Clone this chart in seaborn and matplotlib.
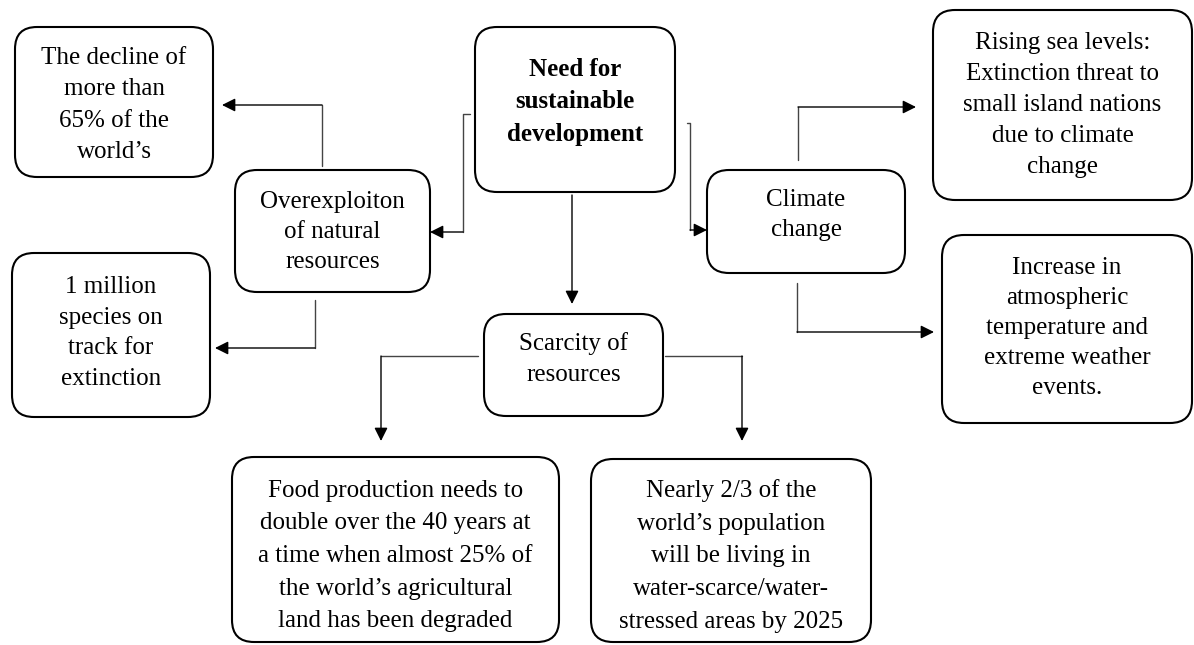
import matplotlib
matplotlib.use("Agg")
import matplotlib.pyplot as plt
from matplotlib.patches import FancyBboxPatch
import seaborn as sns

# box texts
node_ids = ["need", "decline", "over", "million", "climate",
            "rising", "increase", "scarcity", "food", "nearly"]
node_labels = [
    "Need for\nsustainable\ndevelopment",
    "The decline of\nmore than\n65% of the\nworld\u2019s",
    "Overexploiton\nof natural\nresources",
    "1 million\nspecies on\ntrack for\nextinction",
    "Climate\nchange",
    "Rising sea levels:\nExtinction threat to\nsmall island nations\ndue to climate\nchange",
    "Increase in\natmospheric\ntemperature and\nextreme weather\nevents.",
    "Scarcity of\nresources",
    "Food production needs to\ndouble over the 40 years at\na time when almost 25% of\nthe world\u2019s agricultural\nland has been degraded",
    "Nearly 2/3 of the\nworld\u2019s population\nwill be living in\nwater-scarce/water-\nstressed areas by 2025",
]
bold_nodes = ["need"]

# links between boxes (from, to)
edges = [("need", "over"), ("need", "climate"), ("need", "scarcity"),
         ("over", "decline"), ("over", "million"),
         ("climate", "rising"), ("climate", "increase"),
         ("scarcity", "food"), ("scarcity", "nearly")]

# layout in pixels: x0, y0, x1, y1 (y down), text centre y, line spacing
layout = {
    "need": (475, 27, 675, 192, 102, 1.52),
    "decline": (15, 27, 213, 177, 105, 1.53),
    "over": (235, 170, 430, 292, 232, 1.48),
    "million": (12, 253, 210, 417, 333, 1.5),
    "climate": (707, 170, 905, 273, 215, 1.48),
    "rising": (933, 10, 1192, 200, 105, 1.52),
    "increase": (942, 235, 1192, 423, 328, 1.48),
    "scarcity": (484, 314, 663, 416, 359, 1.52),
    "food": (232, 457, 559, 642, 556, 1.62),
    "nearly": (591, 459, 871, 642, 556, 1.62),
}
# elbow routes of the connectors
routes = {
    ("need", "over"): [(470, 114), (463, 114), (463, 232), (430, 232)],
    ("need", "climate"): [(687, 123), (690, 123), (690, 230), (707, 230)],
    ("need", "scarcity"): [(572, 195), (572, 304)],
    ("over", "decline"): [(322, 166), (322, 105), (222, 105)],
    ("over", "million"): [(315, 300), (315, 348), (215, 348)],
    ("climate", "rising"): [(798, 160), (798, 107), (916, 107)],
    ("climate", "increase"): [(797, 283), (797, 332), (934, 332)],
    ("scarcity", "food"): [(478, 356), (381, 356), (381, 441)],
    ("scarcity", "nearly"): [(665, 356), (742, 356), (742, 441)],
}

sns.set_theme(style="white")
plt.rcParams["font.family"] = ["Liberation Serif", "DejaVu Serif"]

fig = plt.figure(figsize=(11.94, 6.45), dpi=100)
ax = fig.add_axes([0, 0, 1, 1])
ax.set_xlim(0, 1194)
ax.set_ylim(645, 0)
ax.axis("off")

for nid, label in zip(node_ids, node_labels):
    x0, y0, x1, y1, ty, ls = layout[nid]
    box = FancyBboxPatch((x0, y0), x1 - x0, y1 - y0,
                         boxstyle="round,pad=0,rounding_size=22",
                         facecolor="white", edgecolor="black", linewidth=1.5)
    ax.add_patch(box)
    ax.text((x0 + x1) / 2, ty, label, ha="center", va="center",
            fontsize=18, linespacing=ls, color="black",
            fontweight="bold" if nid in bold_nodes else "normal")

for e in edges:
    pts = routes[e]
    xs = [p[0] for p in pts[:-1]]
    ys = [p[1] for p in pts[:-1]]
    if len(xs) > 1:
        sns.lineplot(x=xs, y=ys, sort=False, estimator=None, ax=ax,
                     color="#444444", linewidth=1.0)
    ax.annotate("", xy=pts[-1], xytext=pts[-2],
                arrowprops=dict(arrowstyle="-|>", color="black", lw=1.0,
                                mutation_scale=20, shrinkA=0, shrinkB=0))

fig.savefig("out.png", dpi=100)
